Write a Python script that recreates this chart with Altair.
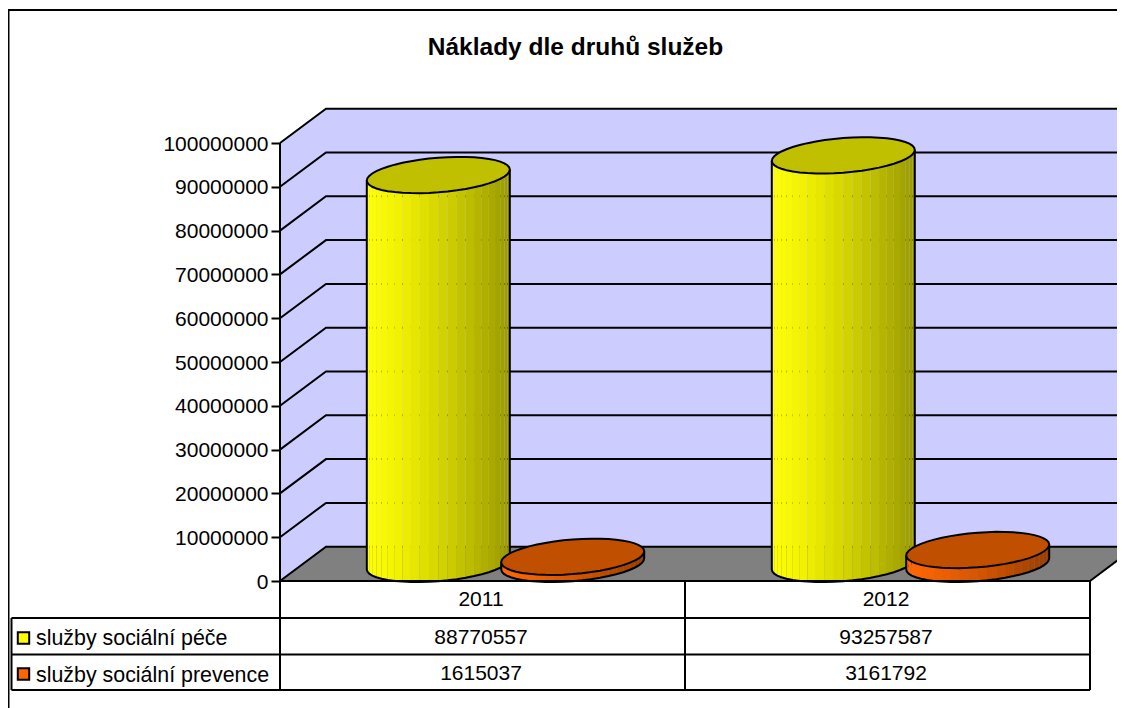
import math
import altair as alt
import pandas as pd

years = ["2011", "2012"]
series = ["služby sociální péče", "služby sociální prevence"]
care = [88770557, 93257587]
prevention = [1615037, 3161792]
ticks = list(range(0, 100000001, 10000000))
title_text = "Náklady dle druhů služeb"

FONT = "Liberation Sans"
PX_PER_CAT = 405.0
PX_PER_VAL = 4.38e-6
X0, Y0 = 280.0, 581.0


def cx(px):
    return (px - X0) / PX_PER_CAT


def vy(px):
    return (Y0 - px) / PX_PER_VAL


W, H = 1109, 700
x_scale = alt.Scale(domain=[cx(8), cx(8 + W)], range=[0, W], nice=False, zero=False)
y_scale = alt.Scale(domain=[vy(8 + H), vy(8)], range=[H, 0], nice=False, zero=False)
DX = 46 / PX_PER_CAT
DY = 34.3 / PX_PER_VAL
RIGHT = 2 + DX + 0.2
TOPV = ticks[-1] + DY

axis = alt.Axis(values=ticks, offset=-272, domain=False, grid=False, title=None, format="d",
                labelFont=FONT, labelFontSize=21, labelColor="black", labelPadding=3, labelOffset=1,
                tickColor="black", tickSize=9, tickWidth=2, labelOverlap=False)


def X():
    return alt.X("x:Q", scale=x_scale, axis=None)


def Y():
    return alt.Y("y:Q", scale=y_scale, axis=axis)


def area(rows, fill, stroke=None, sw=0.0):
    kw = {"stroke": stroke, "strokeWidth": sw} if stroke else {}
    return alt.Chart(pd.DataFrame(rows)).mark_area(color=fill, clip=True, **kw).encode(
        x=X(), y=Y(), y2="y2:Q")


def line(points, width=2.0):
    rows = [{"x": p[0], "y": p[1], "i": n} for n, p in enumerate(points)]
    return alt.Chart(pd.DataFrame(rows)).mark_line(color="black", strokeWidth=width, clip=True).encode(
        x=X(), y=Y(), order="i:Q")


layers = []

# walls and floor
layers.append(area([{"x": 0, "y": ticks[-1], "y2": 0},
                    {"x": DX, "y": TOPV, "y2": DY}], "#CCCCFF"))
layers.append(area([{"x": DX, "y": TOPV, "y2": DY},
                    {"x": RIGHT, "y": TOPV, "y2": DY}], "#CCCCFF"))
layers.append(area([{"x": 0, "y": 0, "y2": 0},
                    {"x": DX, "y": DY, "y2": 0},
                    {"x": 2, "y": DY, "y2": 0},
                    {"x": 2 + DX, "y": DY, "y2": DY}], "#808080"))
for t in ticks:
    layers.append(line([(0, t), (DX, t + DY), (RIGHT, t + DY)]))
layers.append(line([(0, 0), (0, ticks[-1])]))
layers.append(line([(2, 0), (2 + DX, DY)]))


def mix(c1, c2, f):
    return "#" + "".join(f"{round(a + (b - a) * f):02X}" for a, b in zip(c1, c2))


RX = 71.5 / PX_PER_CAT
SK = 5.5 / PX_PER_VAL
RY = 17.3 / PX_PER_VAL
N = 24


def ell(t, xc, v, sign):
    return (xc + RX * math.cos(t), v + DY / 2 + SK * math.cos(t) + sign * RY * math.sin(t))


def cylinder(xc, value, light, dark, lid):
    angles = [math.pi - math.pi * k / N for k in range(N + 1)]
    rows = []
    for k in range(N):
        shade = ((1 - math.cos(math.pi * (k + 0.5) / N)) / 2) ** 1.3
        for t in (angles[k], angles[k + 1]):
            x, top = ell(t, xc, value, -1)
            _, bot = ell(t, xc, 0, -1)
            rows.append({"x": x, "y": top, "y2": bot, "c": mix(light, dark, shade), "s": k})
    out = [alt.Chart(pd.DataFrame(rows)).mark_area(clip=True).encode(
        x=X(), y=Y(), y2="y2:Q", color=alt.Color("c:N", scale=None), detail="s:N")]
    base = [ell(t, xc, 0, -1) for t in angles]
    out.append(line([ell(math.pi, xc, value, -1)] + base + [ell(0, xc, value, -1)]))
    lid_rows = []
    for t in angles:
        x, up = ell(t, xc, value, 1)
        _, lo = ell(t, xc, value, -1)
        lid_rows.append({"x": x, "y": up, "y2": lo})
    out.append(area(lid_rows, lid, "black", 2.0))
    return out


YELLOW, YELLOW_D = (255, 255, 0), (153, 153, 0)
ORANGE, ORANGE_D = (255, 102, 0), (153, 61, 0)
OFF = 67.2 / PX_PER_CAT
for i in range(2):
    c = i + 0.5 + DX / 2
    layers += cylinder(c - OFF, care[i], YELLOW, YELLOW_D, "#C0C000")
    layers += cylinder(c + OFF, prevention[i], ORANGE, ORANGE_D, "#C05000")

# data table
for p in (618, 654.5, 690):
    layers.append(line([(cx(11.5), vy(p)), (2, vy(p))]))
layers.append(line([(0, 0), (2, 0)]))
layers.append(line([(0, 0), (0, vy(690))]))
layers.append(line([(1, 0), (1, vy(690))]))
layers.append(line([(2, 0), (2, vy(690))]))
layers.append(line([(cx(11.5), vy(618)), (cx(11.5), vy(690))]))

# outer frame
layers.append(line([(cx(8.5), vy(8 + H)), (cx(8.5), vy(10)), (cx(8 + W), vy(10))]))


def text(rows, **kw):
    return alt.Chart(pd.DataFrame(rows)).mark_text(font=FONT, color="black", baseline="middle", **kw).encode(
        x=X(), y=Y(), text="t:N")


table = []
for i in range(2):
    table.append({"x": i + 0.5 - 1.5 / PX_PER_CAT, "y": vy(600), "t": years[i]})
    table.append({"x": i + 0.5 - 1.5 / PX_PER_CAT, "y": vy(637.5), "t": str(care[i])})
    table.append({"x": i + 0.5 - 1.5 / PX_PER_CAT, "y": vy(674), "t": str(prevention[i])})
layers.append(text(table, fontSize=21, align="center"))
layers.append(text([{"x": cx(36), "y": vy(639), "t": series[0]},
                    {"x": cx(36), "y": vy(676), "t": series[1]}], fontSize=21.4, align="left"))
layers.append(alt.Chart(pd.DataFrame([
    {"x": cx(23.5), "y": vy(638), "c": "#FFFF00"},
    {"x": cx(23.5), "y": vy(674), "c": "#FF6600"}])).mark_point(
    shape="square", filled=True, size=130, stroke="black", strokeWidth=2, opacity=1).encode(
    x=X(), y=Y(), fill=alt.Color("c:N", scale=None)))

layers.append(text([{"x": cx(575.5), "y": vy(48), "t": title_text}], fontSize=24.5, fontWeight="bold", align="center"))

chart = alt.layer(*layers).properties(
    width=W, height=H, padding=0, autosize=alt.AutoSizeParams(type="none"),
    background="white"
).configure_view(stroke=None)

chart.save("out.html", embed_options={"renderer": "svg", "actions": False})
